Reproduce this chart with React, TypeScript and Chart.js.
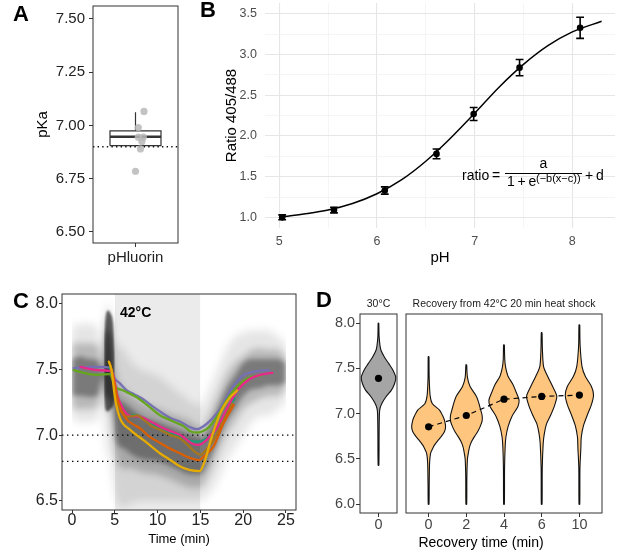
import React, { useEffect, useRef } from 'react';
import { Chart, registerables } from 'chart.js';

const FONT = '"Liberation Sans", Arial, Helvetica, sans-serif';

// ---------------- Panel A data ----------------
const pkaCategories = ['pHluorin'];
const pkaTicks = [6.5, 6.75, 7.0, 7.25, 7.5];
const pkaBoxStats = [6.905, 6.947, 6.975, 7.062]; // q1, median, q3, upper whisker
const pkaValues = [7.066, 6.99, 6.945, 6.945, 6.925, 6.89, 6.785];
const pkaJitter = [0.12, 0.04, 0.04, 0.11, 0.09, 0.07, 0.0];
const pkaReference = 6.9;

// ---------------- Panel B data ----------------
const phLevels = [5.03, 5.56, 6.08, 6.61, 6.99, 7.46, 8.08];
const ratioMeans = [1.0, 1.09, 1.33, 1.78, 2.27, 2.84, 3.33];
const ratioErrors = [0.03, 0.035, 0.045, 0.06, 0.08, 0.1, 0.13];
const fitPh = [5.0, 5.25, 5.5, 5.75, 6.0, 6.25, 6.5, 6.75, 7.0, 7.25, 7.5, 7.75, 8.0, 8.3];
const fitRatio = [1.0, 1.04, 1.09, 1.17, 1.29, 1.46, 1.69, 1.97, 2.28, 2.6, 2.88, 3.11, 3.28, 3.41];
const phMajorTicks = [5, 6, 7, 8];
const phMinorTicks = [5.5, 6.5, 7.5];
const ratioMajorTicks = [1.0, 1.5, 2.0, 2.5, 3.0, 3.5];
const ratioMinorTicks = [1.25, 1.75, 2.25, 2.75, 3.25];

// ---------------- Panel C data ----------------
const timeTicks = [0, 5, 10, 15, 20, 25];
const phTicksC = [6.5, 7.0, 7.5, 8.0];
const heatShockWindow = [5, 15];
const referenceLevels = [7.0, 6.8];
const cloudTimes = [0, 1, 2, 3, 3.3, 3.6, 3.8, 4.0, 4.5, 4.8, 5.2, 6, 7, 8, 10, 12, 14, 15, 16, 17, 18, 19, 20, 21, 22, 23, 24, 25];
const cloudOuterLow = [7.12, 7.1, 7.1, 7.12, 7.2, 7.25, 7.05, 6.9, 6.8, 6.65, 6.5, 6.45, 6.48, 6.5, 6.5, 6.5, 6.5, 6.5, 6.55, 6.65, 6.8, 6.9, 7.0, 7.1, 7.15, 7.15, 7.2, 7.25];
const cloudOuterHigh = [7.82, 7.85, 7.85, 7.82, 7.72, 7.7, 7.85, 8.0, 7.95, 7.75, 7.7, 7.65, 7.55, 7.5, 7.45, 7.35, 7.25, 7.22, 7.35, 7.5, 7.65, 7.75, 7.78, 7.8, 7.8, 7.8, 7.75, 7.7];
const cloudMidLow = [7.2, 7.2, 7.2, 7.22, 7.3, 7.36, 7.25, 7.2, 7.15, 7.0, 6.82, 6.75, 6.75, 6.72, 6.7, 6.65, 6.6, 6.6, 6.7, 6.85, 7.0, 7.1, 7.2, 7.25, 7.28, 7.3, 7.3, 7.35];
const cloudMidHigh = [7.7, 7.7, 7.7, 7.68, 7.6, 7.55, 7.75, 7.9, 7.85, 7.6, 7.45, 7.35, 7.3, 7.25, 7.2, 7.15, 7.1, 7.05, 7.15, 7.3, 7.45, 7.55, 7.6, 7.65, 7.66, 7.65, 7.65, 7.6];
const cloudCoreLow = [7.3, 7.3, 7.29, 7.3, 7.38, 7.44, 7.35, 7.3, 7.28, 7.2, 6.95, 6.9, 6.85, 6.82, 6.8, 6.75, 6.7, 6.7, 6.8, 6.95, 7.1, 7.2, 7.3, 7.35, 7.36, 7.38, 7.38, 7.4];
const cloudCoreHigh = [7.58, 7.6, 7.58, 7.57, 7.52, 7.47, 7.6, 7.8, 7.75, 7.45, 7.3, 7.25, 7.2, 7.15, 7.1, 7.05, 7.0, 6.98, 7.05, 7.2, 7.35, 7.45, 7.55, 7.58, 7.58, 7.58, 7.58, 7.55];
const spikeTimes = [3.75, 3.9, 4.2, 4.5, 4.8, 5.0];
const spikeLow = [7.3, 7.2, 7.18, 7.2, 7.22, 7.28];
const spikeHigh = [7.7, 7.88, 7.95, 7.93, 7.85, 7.62];

const tracePurple: number[][] = [[0.2, 7.51], [1, 7.515], [2, 7.52], [3, 7.52], [4.4, 7.515], [5.0, 7.43], [5.5, 7.4], [6.4, 7.34], [7.3, 7.31], [8.4, 7.27], [9.5, 7.215], [10.5, 7.17], [11.5, 7.13], [12.7, 7.1], [13.8, 7.06], [14.6, 7.045], [15.4, 7.07], [16.3, 7.12], [17.3, 7.2], [18.5, 7.34], [19.3, 7.41], [20.0, 7.457], [21.0, 7.48], [22.0, 7.492], [23.0, 7.495]];
const traceGreen: number[][] = [[0.2, 7.495], [1, 7.48], [2, 7.465], [3, 7.46], [4.4, 7.465], [5.06, 7.37], [6.0, 7.34], [7.5, 7.29], [8.76, 7.23], [10.3, 7.15], [11.3, 7.12], [12.3, 7.09], [13.0, 7.07], [13.8, 7.03], [14.6, 7.02], [15.8, 7.05], [16.5, 7.1], [17.3, 7.18], [18.0, 7.26], [18.9, 7.34], [19.8, 7.4], [20.8, 7.44], [22.2, 7.457]];
const traceMagenta: number[][] = [[1.0, 7.52], [2, 7.505], [3, 7.495], [4.4, 7.49], [4.8, 7.46], [5.3, 7.3], [5.8, 7.22], [6.4, 7.16], [7.0, 7.145], [8.0, 7.14], [9.0, 7.11], [10.3, 7.064], [11.5, 7.03], [12.65, 7.0], [13.5, 6.96], [14.2, 6.93], [14.8, 6.925], [15.5, 6.95], [16.2, 7.0], [16.9, 7.05], [18.1, 7.2], [19.3, 7.34], [20.8, 7.43], [22.0, 7.46], [23.4, 7.475]];
const traceTeal: number[][] = [[4.4, 7.52], [5.0, 7.38], [5.6, 7.22], [6.4, 7.14], [7.3, 7.155], [8.0, 7.14], [9.0, 7.1], [10.3, 7.05], [11.5, 7.02], [12.65, 6.99], [13.6, 6.96], [14.7, 6.95], [15.4, 6.96], [16.2, 7.0], [17.0, 7.06], [18.0, 7.18], [19.0, 7.28]];
const traceBrown: number[][] = [[4.6, 7.5], [5.0, 7.35], [5.6, 7.2], [6.4, 7.14], [7.6, 7.15], [8.5, 7.11], [9.3, 7.07], [10.3, 7.04], [11.5, 7.0], [12.65, 6.975], [13.6, 6.92], [14.4, 6.87], [15.0, 6.85], [15.7, 6.89], [16.5, 6.96], [17.7, 7.11], [18.7, 7.24]];
const traceOrange: number[][] = [[4.4, 7.55], [4.8, 7.45], [5.45, 7.24], [6.4, 7.12], [7.2, 7.08], [8.0, 7.05], [9.0, 6.99], [10.3, 6.94], [11.5, 6.895], [12.65, 6.86], [13.6, 6.83], [14.8, 6.81], [15.6, 6.85], [16.5, 6.91], [17.7, 7.09], [18.9, 7.23]];
const traceYellow: number[][] = [[4.3, 7.56], [4.6, 7.5], [5.06, 7.27], [5.6, 7.13], [6.8, 7.04], [8.4, 6.96], [10.3, 6.86], [11.5, 6.81], [12.65, 6.76], [13.7, 6.735], [14.9, 6.726], [15.5, 6.8], [16.2, 6.96], [17.3, 7.165], [18.5, 7.29], [19.3, 7.34]];

// ---------------- Panel D data ----------------
const baselineCategory = ['0'];
const recoveryTimes = ['0', '2', '4', '6', '10'];
const phTicksD = [6.0, 6.5, 7.0, 7.5, 8.0];
const baselineMean = 7.39;
const recoveryMeans = [6.855, 6.98, 7.16, 7.19, 7.205];
const violinBaseline: number[][] = [[8.0, 0.01], [7.85, 0.02], [7.75, 0.05], [7.7, 0.08], [7.62, 0.2], [7.55, 0.34], [7.48, 0.47], [7.4, 0.56], [7.33, 0.52], [7.26, 0.42], [7.19, 0.25], [7.12, 0.12], [7.06, 0.05], [7.0, 0.03], [6.8, 0.02], [6.43, 0.012]];
const violinRecovery0: number[][] = [[7.63, 0.01], [7.4, 0.015], [7.2, 0.04], [7.11, 0.1], [7.04, 0.29], [6.98, 0.37], [6.93, 0.42], [6.855, 0.45], [6.8, 0.42], [6.745, 0.33], [6.7, 0.24], [6.65, 0.15], [6.6, 0.09], [6.56, 0.05], [6.45, 0.025], [6.2, 0.015], [6.0, 0.01]];
const violinRecovery2: number[][] = [[7.54, 0.01], [7.4, 0.03], [7.3, 0.1], [7.19, 0.27], [7.12, 0.33], [7.06, 0.37], [6.98, 0.42], [6.92, 0.42], [6.86, 0.37], [6.8, 0.3], [6.75, 0.22], [6.7, 0.15], [6.64, 0.09], [6.58, 0.06], [6.5, 0.03], [6.3, 0.015], [6.0, 0.01]];
const violinRecovery4: number[][] = [[7.76, 0.01], [7.6, 0.02], [7.52, 0.04], [7.41, 0.11], [7.32, 0.24], [7.22, 0.34], [7.15, 0.4], [7.08, 0.37], [6.97, 0.21], [6.86, 0.11], [6.74, 0.05], [6.63, 0.03], [6.4, 0.015], [6.0, 0.01]];
const violinRecovery6: number[][] = [[7.895, 0.01], [7.7, 0.02], [7.52, 0.05], [7.41, 0.16], [7.3, 0.29], [7.195, 0.4], [7.1, 0.35], [6.985, 0.24], [6.89, 0.13], [6.78, 0.07], [6.67, 0.04], [6.4, 0.015], [6.0, 0.01]];
const violinRecovery10: number[][] = [[7.98, 0.01], [7.75, 0.02], [7.52, 0.07], [7.41, 0.16], [7.3, 0.32], [7.206, 0.375], [7.1, 0.32], [6.985, 0.21], [6.87, 0.11], [6.74, 0.05], [6.63, 0.04], [6.4, 0.015], [6.0, 0.01]];
const recoveryViolins = [violinRecovery0, violinRecovery2, violinRecovery4, violinRecovery6, violinRecovery10];

// ---------------- plugins ----------------
// Softens the density bands of panel C (registered before the Filler so the blur applies to the fill).
const softFillPlugin = {
  id: 'softFill',
  beforeDatasetDraw(chart: any, args: any) {
    const ds = chart.data.datasets[args.index];
    if (ds && ds.soft) {
      chart.ctx.save();
      chart.ctx.filter = `blur(${ds.soft}px)`;
    }
  },
  afterDatasetDraw(chart: any, args: any) {
    const ds = chart.data.datasets[args.index];
    if (ds && ds.soft) chart.ctx.restore();
  },
};
Chart.register(softFillPlugin);
Chart.register(...registerables);

const framePlugin = {
  id: 'frame',
  afterDatasetsDraw(chart: any, _args: any, opts: any) {
    if (!opts || !opts.color) return;
    const { ctx, chartArea: a } = chart;
    ctx.save();
    ctx.strokeStyle = opts.color;
    ctx.lineWidth = opts.width || 1;
    ctx.strokeRect(a.left, a.top, a.right - a.left, a.bottom - a.top);
    ctx.restore();
  },
};
Chart.register(framePlugin);

const font = (size: number, weight: string = 'normal', lineHeight: number = 1) => ({ family: FONT, size, weight, lineHeight });
const fixedTicks = (values: number[]) => (scale: any) => {
  scale.ticks = values.map((value) => ({ value }));
};
const fitWidth = (w: number) => (s: any) => {
  s.width = w;
  s.paddingTop = 0;
  s.paddingBottom = 0;
};
const fitHeight = (h: number) => (s: any) => {
  s.height = h;
  s.paddingLeft = 0;
  s.paddingRight = 0;
};
const classicGrid = (len: number) => ({ display: true, drawOnChartArea: false, drawTicks: true, tickLength: len, color: '#333', lineWidth: 1 });

function base(padding: any, scales: any, plugins: any = {}) {
  return {
    responsive: false,
    animation: false,
    events: [],
    layout: { padding, autoPadding: false },
    plugins: { legend: { display: false }, tooltip: { enabled: false }, ...plugins },
    elements: { point: { radius: 0 }, line: { tension: 0 } },
    scales,
  };
}

const pts = (xs: number[], ys: number[]) => xs.map((x, i) => ({ x, y: ys[i] }));
const pairs = (arr: number[][]) => arr.map(([x, y]) => ({ x, y }));

function violinOutline(center: number, profile: number[][]) {
  const right = profile.map(([v, w]) => ({ x: center + w, y: v }));
  const left = profile.slice().reverse().map(([v, w]) => ({ x: center - w, y: v }));
  return [...right, ...left, right[0]];
}

// ---------------- chart configs ----------------
function makeA() {
  const [q1, med, q3, hiW] = pkaBoxStats;
  const hw = 0.36;
  return {
    type: 'line',
    data: {
      datasets: [
        { data: pkaValues.map((v, i) => ({ x: 1 + pkaJitter[i], y: v })), showLine: false, pointRadius: 3.6, pointBackgroundColor: 'rgba(185,185,185,0.85)', pointBorderWidth: 0, order: 1 },
        { data: [{ x: 0.4, y: pkaReference }, { x: 1.6, y: pkaReference }], borderColor: '#111', borderWidth: 1.4, borderDash: [1.4, 3.2], order: 2 },
        { data: [{ x: 1 - hw, y: med }, { x: 1 + hw, y: med }], borderColor: '#333', borderWidth: 2.6, order: 3 },
        { data: [{ x: 1 - hw, y: q1 }, { x: 1 + hw, y: q1 }, { x: 1 + hw, y: q3 }, { x: 1 - hw, y: q3 }, { x: 1 - hw, y: q1 }], borderColor: '#333', borderWidth: 1.2, order: 4 },
        { data: [{ x: 1, y: q3 }, { x: 1, y: hiW }], borderColor: '#333', borderWidth: 1.2, order: 5 },
      ],
    },
    options: base({ top: 6, right: 12, left: 0, bottom: 0 }, {
      x: {
        type: 'linear', min: 0.4, max: 1.6, afterBuildTicks: fixedTicks([1]), afterFit: fitHeight(32),
        ticks: { callback: (v: number) => pkaCategories[Math.round(v) - 1] ?? '', font: font(15), color: '#222', padding: 3, autoSkip: false, maxRotation: 0 },
        grid: classicGrid(4), border: { display: false },
      },
      y: {
        type: 'linear', min: 6.448, max: 7.561, afterBuildTicks: fixedTicks(pkaTicks), afterFit: fitWidth(93),
        ticks: { callback: (v: number) => Number(v).toFixed(2), font: font(15), color: '#222', padding: 4 },
        grid: classicGrid(4), border: { display: false },
        title: { display: true, text: 'pKa', font: font(15, 'normal', 1.2), color: '#000', padding: { top: 34, bottom: 0 } },
      },
    }, { frame: { color: '#333', width: 1 } }),
  };
}

function makeB() {
  const capHalf = 0.04;
  const errData: any[] = [];
  phLevels.forEach((x, i) => {
    const lo = ratioMeans[i] - ratioErrors[i];
    const hi = ratioMeans[i] + ratioErrors[i];
    errData.push(
      { x, y: lo }, { x, y: hi }, { x, y: null },
      { x: x - capHalf, y: lo }, { x: x + capHalf, y: lo }, { x, y: null },
      { x: x - capHalf, y: hi }, { x: x + capHalf, y: hi }, { x, y: null },
    );
  });
  const xTicks = [...phMajorTicks, ...phMinorTicks].sort((a, b) => a - b);
  const yTicks = [...ratioMajorTicks, ...ratioMinorTicks].sort((a, b) => a - b);
  const gridColor = (minor: number[]) => (ctx: any) => (minor.includes(ctx.tick?.value) ? '#f1f1f1' : '#e6e6e6');
  const gridWidth = (minor: number[]) => (ctx: any) => (minor.includes(ctx.tick?.value) ? 0.7 : 1.1);
  return {
    type: 'line',
    data: {
      datasets: [
        { data: pts(phLevels, ratioMeans), showLine: false, pointRadius: 3.3, pointBackgroundColor: '#000', pointBorderWidth: 0, order: 1 },
        { data: errData, borderColor: '#000', borderWidth: 1.6, spanGaps: false, order: 2 },
        { data: pts(fitPh, fitRatio), borderColor: '#000', borderWidth: 1.5, cubicInterpolationMode: 'monotone', order: 3 },
      ],
    },
    options: base({ top: 3, right: 2, left: 0, bottom: 0 }, {
      x: {
        type: 'linear', min: 4.854, max: 8.437, afterBuildTicks: fixedTicks(xTicks), afterFit: fitHeight(47),
        ticks: { callback: (v: number) => (phMajorTicks.includes(v) ? String(v) : ''), font: font(12.5), color: '#4d4d4d', padding: 7, autoSkip: false, maxRotation: 0 },
        grid: { drawTicks: false, color: gridColor(phMinorTicks), lineWidth: gridWidth(phMinorTicks) }, border: { display: false },
        title: { display: true, text: 'pH', font: font(15, 'normal', 1.2), color: '#000', padding: { top: 0, bottom: 8 } },
      },
      y: {
        type: 'linear', min: 0.869, max: 3.635, afterBuildTicks: fixedTicks(yTicks), afterFit: fitWidth(70),
        ticks: { callback: (v: number) => (ratioMajorTicks.includes(v) ? Number(v).toFixed(1) : ''), font: font(12.5), color: '#4d4d4d', padding: 8, autoSkip: false },
        grid: { drawTicks: false, color: gridColor(ratioMinorTicks), lineWidth: gridWidth(ratioMinorTicks) }, border: { display: false },
        title: { display: true, text: 'Ratio 405/488', font: font(15, 'normal', 1.2), color: '#000', padding: { top: 28, bottom: 0 } },
      },
    }),
  };
}

function makeC() {
  const xMin = -1.17, xMax = 26.17, yMin = 6.429, yMax = 8.076;
  const band = (lo: number[], hi: number[], xs: number[], color: string, order: number, soft: number) => [
    { data: pts(xs, hi), borderWidth: 0, fill: false, cubicInterpolationMode: 'monotone', order },
    { data: pts(xs, lo), borderWidth: 0, fill: '-1', backgroundColor: color, cubicInterpolationMode: 'monotone', order, soft },
  ];
  const trace = (arr: number[][], color: string, order: number) => ({
    data: pairs(arr), borderColor: color, borderWidth: 2.3, cubicInterpolationMode: 'monotone', borderCapStyle: 'round', borderJoinStyle: 'round', order,
  });
  return {
    type: 'line',
    data: {
      datasets: [
        trace(traceYellow, '#e6ab02', 1),
        trace(traceOrange, '#d95f02', 2),
        trace(traceBrown, '#a6761d', 3),
        trace(traceMagenta, '#e7298a', 4),
        trace(traceTeal, '#1b9e77', 5),
        trace(traceGreen, '#66a61e', 6),
        trace(tracePurple, '#7570b3', 7),
        ...referenceLevels.map((lvl) => ({ data: [{ x: xMin, y: lvl }, { x: xMax, y: lvl }], borderColor: '#000', borderWidth: 1.4, borderDash: [1.4, 3.6], order: 10 })),
        ...band(spikeLow, spikeHigh, spikeTimes, 'rgba(0,0,0,0.6)', 20, 1.2),
        ...band(cloudCoreLow, cloudCoreHigh, cloudTimes, 'rgba(0,0,0,0.34)', 21, 2.5),
        ...band(cloudMidLow, cloudMidHigh, cloudTimes, 'rgba(0,0,0,0.2)', 22, 3.5),
        ...band(cloudOuterLow, cloudOuterHigh, cloudTimes, 'rgba(0,0,0,0.1)', 23, 4.5),
        { data: [{ x: heatShockWindow[0], y: yMax }, { x: heatShockWindow[1], y: yMax }], borderWidth: 0, fill: 'start', backgroundColor: '#ebebeb', order: 30 },
      ],
    },
    options: base({ top: 11, right: 9, left: 0, bottom: 0 }, {
      x: {
        type: 'linear', min: xMin, max: xMax, afterBuildTicks: fixedTicks(timeTicks), afterFit: fitHeight(50),
        ticks: { callback: (v: number) => String(v), font: font(16), color: '#222', padding: 0, autoSkip: false, maxRotation: 0 },
        grid: classicGrid(3), border: { display: false },
        title: { display: true, text: 'Time (min)', font: font(13, 'normal', 1.2), color: '#000', padding: { top: 0, bottom: 13 } },
      },
      y: {
        type: 'linear', min: yMin, max: yMax, afterBuildTicks: fixedTicks(phTicksC), afterFit: fitWidth(62),
        ticks: { callback: (v: number) => Number(v).toFixed(1), font: font(16), color: '#222', padding: 1 },
        grid: classicGrid(3), border: { display: false },
      },
    }, { frame: { color: '#333', width: 1 } }),
  };
}

const violinStyle = { borderColor: '#111', borderWidth: 1.1, fill: 'shape', tension: 0.25, borderJoinStyle: 'round' };

function makeDLeft() {
  return {
    type: 'line',
    data: {
      datasets: [
        { data: [{ x: 1, y: baselineMean }], showLine: false, pointRadius: 3.6, pointBackgroundColor: '#000', pointBorderWidth: 0, order: 1 },
        { data: violinOutline(1, violinBaseline), backgroundColor: '#a5a5a5', ...violinStyle, order: 2 },
      ],
    },
    options: base({ top: 31, right: 3, left: 0, bottom: 0 }, {
      x: {
        type: 'linear', min: 0.4, max: 1.6, afterBuildTicks: fixedTicks([1]), afterFit: fitHeight(47),
        ticks: { callback: (v: number) => baselineCategory[Math.round(v) - 1] ?? '', font: font(14.4), color: '#444', padding: 1, autoSkip: false, maxRotation: 0 },
        grid: classicGrid(4), border: { display: false },
      },
      y: {
        type: 'linear', min: 5.904, max: 8.1, afterBuildTicks: fixedTicks(phTicksD), afterFit: fitWidth(60),
        ticks: { callback: (v: number) => Number(v).toFixed(1), font: font(14.4), color: '#444', padding: 1 },
        grid: classicGrid(4), border: { display: false },
      },
    }, { frame: { color: '#333', width: 1 } }),
  };
}

function makeDRight() {
  const centers = recoveryTimes.map((_, i) => i + 1);
  return {
    type: 'line',
    data: {
      datasets: [
        { data: pts(centers, recoveryMeans), showLine: false, pointRadius: 3.6, pointBackgroundColor: '#000', pointBorderWidth: 0, order: 1 },
        { data: pts(centers, recoveryMeans), borderColor: '#000', borderWidth: 1.2, borderDash: [5, 4], order: 2 },
        ...recoveryViolins.map((prof, i) => ({ data: violinOutline(centers[i], prof), backgroundColor: '#fdc57e', ...violinStyle, order: 3 })),
      ],
    },
    options: base({ top: 31, right: 15, left: 6, bottom: 0 }, {
      x: {
        type: 'linear', min: 0.4, max: 5.6, afterBuildTicks: fixedTicks(centers), afterFit: fitHeight(47),
        ticks: { callback: (v: number) => recoveryTimes[Math.round(v) - 1] ?? '', font: font(14.4), color: '#444', padding: 1, autoSkip: false, maxRotation: 0 },
        grid: classicGrid(4), border: { display: false },
      },
      y: { type: 'linear', display: false, min: 5.904, max: 8.1 },
    }, { frame: { color: '#333', width: 1 } }),
  };
}

// ---------------- components ----------------
function ChartBox({ left, top, width, height, make }: { left: number; top: number; width: number; height: number; make: () => any }) {
  const ref = useRef<HTMLCanvasElement>(null);
  useEffect(() => {
    const chart = new Chart(ref.current as HTMLCanvasElement, make());
    return () => chart.destroy();
  }, []);
  return <canvas ref={ref} width={width} height={height} style={{ position: 'absolute', left, top, width, height }} />;
}

function Txt({ children, style }: { children: any; style: any }) {
  return <div style={{ position: 'absolute', whiteSpace: 'nowrap', lineHeight: 1, fontFamily: FONT, color: '#000', ...style }}>{children}</div>;
}

export default function App() {
  const letter = { fontSize: 22, fontWeight: 'bold' };
  return (
    <div style={{ position: 'absolute', left: 0, top: 0, width: 617, height: 560, background: '#fff', overflow: 'hidden' }}>
      <ChartBox left={0} top={0} width={190} height={275} make={makeA} />
      <ChartBox left={195} top={0} width={422} height={275} make={makeB} />
      <ChartBox left={0} top={283} width={305} height={277} make={makeC} />
      <ChartBox left={300} top={283} width={100} height={277} make={makeDLeft} />
      <ChartBox left={400} top={283} width={217} height={277} make={makeDRight} />

      <Txt style={{ ...letter, left: 13, top: 3 }}>A</Txt>
      <Txt style={{ ...letter, left: 200, top: -1 }}>B</Txt>
      <Txt style={{ ...letter, left: 13, top: 290 }}>C</Txt>
      <Txt style={{ ...letter, left: 316, top: 289 }}>D</Txt>

      <Txt style={{ left: 120, top: 305, fontSize: 14, fontWeight: 'bold' }}>42°C</Txt>

      <Txt style={{ left: 462, top: 168, fontSize: 14 }}>ratio{'\u2009'}=</Txt>
      <Txt style={{ left: 505, width: 77, textAlign: 'center', top: 156, fontSize: 14 }}>a</Txt>
      <div style={{ position: 'absolute', left: 505, top: 173, width: 77, height: 1, background: '#000' }} />
      <Txt style={{ left: 507, top: 174, fontSize: 14 }}>1{'\u2009'}+{'\u2009'}e</Txt>
      <Txt style={{ left: 536, top: 173, fontSize: 11 }}>(−b(x−c))</Txt>
      <Txt style={{ left: 585, top: 168, fontSize: 14 }}>+{'\u2009'}d</Txt>

      <Txt style={{ left: 360, width: 37, textAlign: 'center', top: 298, fontSize: 10.5, color: '#1a1a1a' }}>30°C</Txt>
      <Txt style={{ left: 406, width: 196, textAlign: 'center', top: 298, fontSize: 10.5, color: '#1a1a1a' }}>Recovery from 42°C 20 min heat shock</Txt>
      <Txt style={{ left: 360, width: 242, textAlign: 'center', top: 535, fontSize: 14 }}>Recovery time (min)</Txt>
    </div>
  );
}
